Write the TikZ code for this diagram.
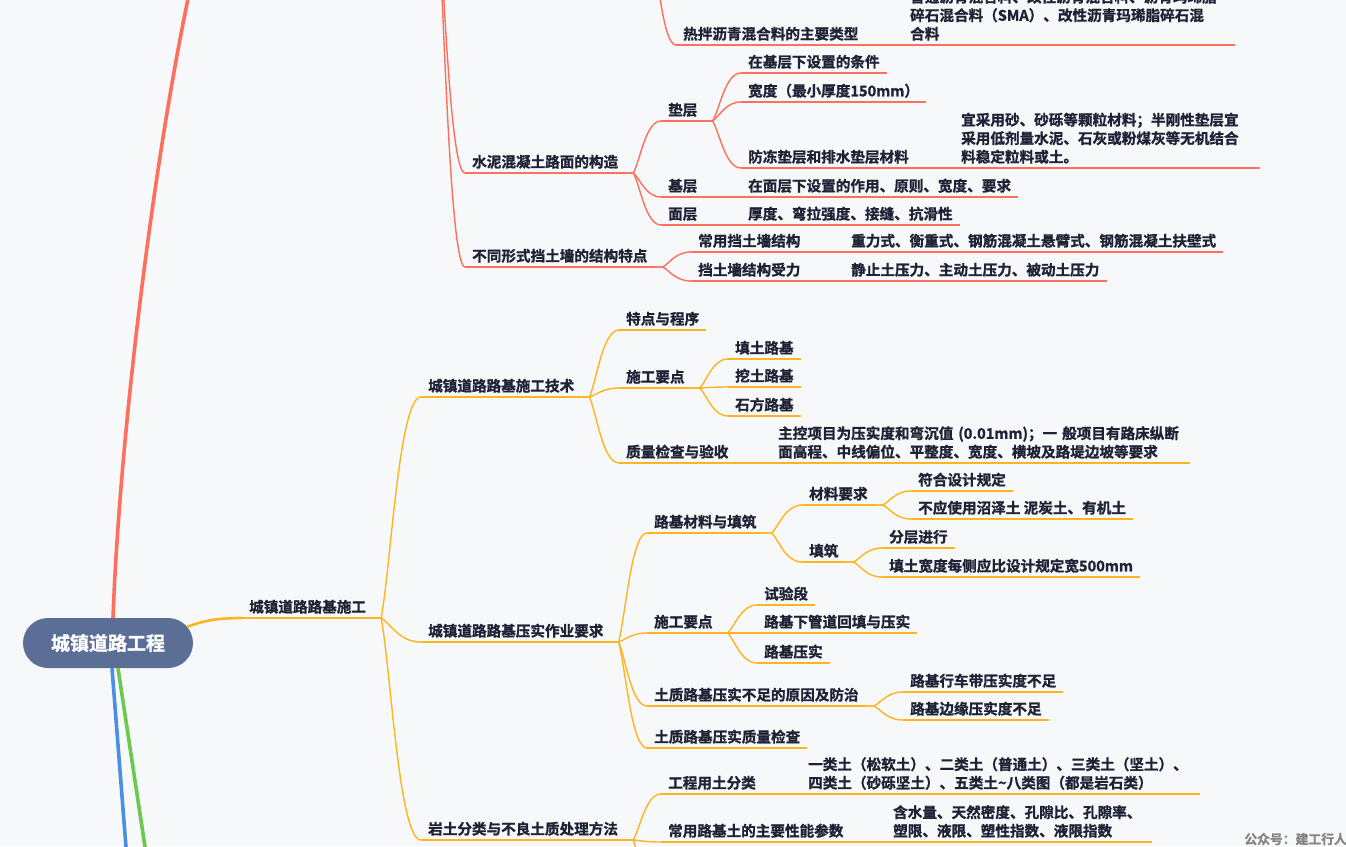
\documentclass[tikz,border=0pt]{standalone}
\usepackage{fontspec}
\newfontfamily\cjk{Noto Sans CJK SC Bold}[FakeBold=1.2]
\usetikzlibrary{calc}
\definecolor{paper}{HTML}{F7F8FA}
\definecolor{ink}{HTML}{1E2235}
\definecolor{coral}{HTML}{FF6F5E}
\definecolor{amber}{HTML}{FFB420}
\definecolor{sky}{HTML}{4A8FE0}
\definecolor{leafgreen}{HTML}{6CC84F}
\definecolor{slate}{HTML}{5B6E96}
\definecolor{wmgray}{HTML}{858585}

\begin{document}
\begin{tikzpicture}[x=1pt,y=-1pt,
  topic/.style={anchor=south west,inner xsep=7pt,inner ysep=1pt,text=ink,
    font=\cjk\fontsize{14.6}{18.5}\selectfont,
    execute at end node={\rule[-4.5pt]{0pt}{4.5pt}}},
  rline/.style={draw=coral,line width=1.4pt},
  oline/.style={draw=amber,line width=1.4pt},
  rtopic/.style={topic,append after command={(\tikzlastnode.south west) edge[rline] (\tikzlastnode.south east)}},
  otopic/.style={topic,append after command={(\tikzlastnode.south west) edge[oline] (\tikzlastnode.south east)}},
  multi/.style={align=left,text width=#1},
  trunk/.style={line width=3.6pt}
]
\useasboundingbox (0,0) rectangle (1346,846);
\fill[paper] (0,0) rectangle (1346,846);
\clip (0,0) rectangle (1346,846);

\node[fill=slate,rounded corners=25pt,minimum width=170pt,minimum height=50pt,text=white,
  font=\cjk\fontsize{19}{22}\selectfont] (root) at (108,643) {城镇道路工程};

\coordinate (upper) at (192,-20);
\coordinate (lowA) at (127,860);
\coordinate (lowB) at (147,860);
\coordinate (pave) at (436,-120);
\coordinate (hotmix) at (648,-90);
\coordinate (more) at (668,930);

% pavement branch
\node[rtopic] (hot) at (676,45) {热拌沥青混合料的主要类型};
\node[rtopic,multi=318pt] (hotT) at (903,45) {普通沥青混合料、改性沥青混合料、沥青玛琋脂\\碎石混合料（SMA）、改性沥青玛琋脂碎石混\\合料};
\node[rtopic] (cement) at (465,173) {水泥混凝土路面的构造};
\node[rtopic] (cushion) at (661,121) {垫层};
\node[rtopic] (cond) at (741,73) {在基层下设置的条件};
\node[rtopic] (thick) at (741,102) {宽度（最小厚度150mm）};
\node[rtopic] (frost) at (741,168) {防冻垫层和排水垫层材料};
\node[rtopic,multi=292pt] (frostT) at (954,168) {宜采用砂、砂砾等颗粒材料；半刚性垫层宜\\采用低剂量水泥、石灰或粉煤灰等无机结合\\料稳定粒料或土。};
\node[rtopic] (basec) at (661,197) {基层};
\node[rtopic] (baseT) at (741,197) {在面层下设置的作用、原则、宽度、要求};
\node[rtopic] (surf) at (661,225) {面层};
\node[rtopic] (surfT) at (741,225) {厚度、弯拉强度、接缝、抗滑性};
\node[rtopic] (wall) at (465,267) {不同形式挡土墙的结构特点};
\node[rtopic] (common) at (691,252) {常用挡土墙结构};
\node[rtopic] (commonT) at (844,252) {重力式、衡重式、钢筋混凝土悬臂式、钢筋混凝土扶壁式};
\node[rtopic] (force) at (691,281) {挡土墙结构受力};
\node[rtopic] (forceT) at (844,281) {静止土压力、主动土压力、被动土压力};

% subgrade branch
\node[otopic] (sub) at (242,618) {城镇道路路基施工};
\node[otopic] (tech) at (421,397) {城镇道路路基施工技术};
\node[otopic] (feat) at (619,330) {特点与程序};
\node[otopic] (key1) at (619,388) {施工要点};
\node[otopic] (fillsoil) at (728,359) {填土路基};
\node[otopic] (cutsoil) at (728,387) {挖土路基};
\node[otopic] (rockcut) at (728,416) {石方路基};
\node[otopic] (qual) at (619,463) {质量检查与验收};
\node[otopic,multi=405pt] (qualT) at (771,463) {主控项目为压实度和弯沉值 (0.01mm)；一 般项目有路床纵断\\面高程、中线偏位、平整度、宽度、横坡及路堤边坡等要求};
\node[otopic] (comp) at (421,642) {城镇道路路基压实作业要求};
\node[otopic] (mat) at (647,533) {路基材料与填筑};
\node[otopic] (matreq) at (802,505) {材料要求};
\node[otopic] (conf) at (911,491) {符合设计规定};
\node[otopic] (nouse) at (911,519) {不应使用沼泽土 泥炭土、有机土};
\node[otopic] (fillc) at (802,562) {填筑};
\node[otopic] (layer) at (882,548) {分层进行};
\node[otopic] (wide) at (882,577) {填土宽度每侧应比设计规定宽500mm};
\node[otopic] (key2) at (647,633) {施工要点};
\node[otopic] (trial) at (757,605) {试验段};
\node[otopic] (pipe) at (757,633) {路基下管道回填与压实};
\node[otopic] (roll) at (757,663) {路基压实};
\node[otopic] (lack) at (647,706) {土质路基压实不足的原因及防治};
\node[otopic] (lane) at (903,692) {路基行车带压实度不足};
\node[otopic] (rim) at (903,720) {路基边缘压实度不足};
\node[otopic] (check) at (647,748) {土质路基压实质量检查};
\node[otopic] (soil) at (421,840) {岩土分类与不良土质处理方法};
\node[otopic] (cls) at (661,794) {工程用土分类};
\node[otopic,multi=385pt] (clsT) at (801,794) {一类土（松软土）、二类土（普通土）、三类土（坚土）、\\四类土（砂砾坚土）、五类土\textasciitilde 八类图（都是岩石类）};
\node[otopic] (param) at (661,842) {常用路基土的主要性能参数};
\node[otopic,multi=252pt] (paramT) at (886,842) {含水量、天然密度、孔隙比、孔隙率、\\塑限、液限、塑性指数、液限指数};

\node[anchor=east,inner sep=0pt,text=wmgray,font=\cjk\fontsize{12.8}{14}\selectfont] (sign) at (1347,839) {公众号：建工行人};

% trunks from the root
\draw[trunk,coral] ([xshift=5pt]root.north) .. controls (120,430) and (155,150) .. (upper);
\draw[trunk,sky] ([xshift=4pt]root.south) -- (lowA);
\draw[trunk,leafgreen] ([xshift=10pt]root.south) -- (lowB);
\draw[amber,line width=2.6pt] ([xshift=-6pt,yshift=-9pt]root.north east) .. controls (205,620) and (220,618) .. (sub.south west);

\draw[rline] (pave) .. controls ($(pave)!0.25!(cement.south west)$) and ($(pave |- cement.south west)!0.45!(cement.south west)$) .. (cement.south west);
\draw[rline] (pave) .. controls ($(pave)!0.25!(wall.south west)$) and ($(pave |- wall.south west)!0.45!(wall.south west)$) .. (wall.south west);
\draw[rline] (hotmix) .. controls ($(hotmix)!0.25!(hot.south west)$) and ($(hotmix |- hot.south west)!0.45!(hot.south west)$) .. (hot.south west);

\foreach \p/\c in {hot/hotT,cement/cushion,cement/basec,cement/surf,cushion/cond,cushion/thick,cushion/frost,frost/frostT,basec/baseT,surf/surfT,wall/common,wall/force,common/commonT,force/forceT}
  \draw[rline] (\p.south east) -- ++(8,0) coordinate (j) .. controls ($(j)!0.25!(\c.south west)$) and ($(j |- \c.south west)!0.45!(\c.south west)$) .. (\c.south west);

\foreach \p/\c in {sub/tech,sub/comp,sub/soil,tech/feat,tech/key1,tech/qual,key1/fillsoil,key1/cutsoil,key1/rockcut,qual/qualT,comp/mat,comp/key2,comp/lack,comp/check,mat/matreq,mat/fillc,matreq/conf,matreq/nouse,fillc/layer,fillc/wide,key2/trial,key2/pipe,key2/roll,lack/lane,lack/rim,soil/cls,soil/param,cls/clsT,param/paramT}
  \draw[oline] (\p.south east) -- ++(8,0) coordinate (j) .. controls ($(j)!0.25!(\c.south west)$) and ($(j |- \c.south west)!0.45!(\c.south west)$) .. (\c.south west);

\draw[oline] (soil.south east) -- ++(8,0) coordinate (j) .. controls ($(j)!0.25!(more)$) and ($(j |- more)!0.45!(more)$) .. (more);
\end{tikzpicture}
\end{document}
